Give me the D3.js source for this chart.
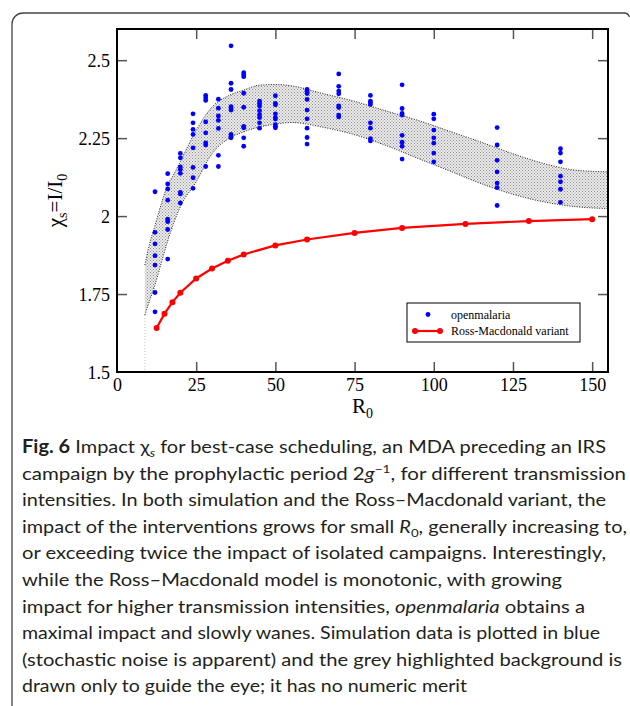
<!DOCTYPE html>
<html>
<head>
<meta charset="utf-8">
<script src="https://cdn.jsdelivr.net/npm/d3@7"></script>
<style>
  body { margin: 0; background: #fff; }
  svg { display: block; }
</style>
</head>
<body>
<svg width="630" height="706"></svg>
<script>
// openmalaria simulation results, one column of runs per R0
const simR0 = [12, 16, 20, 24, 28, 32, 36, 40, 45, 50, 60, 70, 80, 90, 100, 120, 140];
const simValues = [
  [2.078, 1.948, 1.911, 1.873, 1.843, 1.755, 1.693],
  [2.136, 2.103, 2.087, 2.051, 1.990, 1.982, 1.957, 1.862],
  [2.201, 2.187, 2.158, 2.150, 2.137, 2.076, 2.071, 2.042],
  [2.328, 2.299, 2.278, 2.262, 2.219, 2.156, 2.123, 2.089],
  [2.387, 2.379, 2.371, 2.302, 2.267, 2.235, 2.228, 2.159],
  [2.375, 2.346, 2.321, 2.307, 2.281, 2.195, 2.159],
  [2.546, 2.426, 2.406, 2.351, 2.344, 2.340, 2.262, 2.256, 2.251],
  [2.460, 2.453, 2.447, 2.394, 2.349, 2.288, 2.283, 2.251, 2.224],
  [2.369, 2.361, 2.353, 2.338, 2.325, 2.316, 2.299, 2.282],
  [2.386, 2.361, 2.357, 2.328, 2.316, 2.311, 2.293, 2.288, 2.283],
  [2.406, 2.400, 2.393, 2.374, 2.340, 2.312, 2.282, 2.252, 2.231],
  [2.456, 2.416, 2.401, 2.392, 2.353, 2.348, 2.324, 2.318],
  [2.387, 2.369, 2.364, 2.358, 2.299, 2.282, 2.248, 2.241],
  [2.421, 2.345, 2.329, 2.324, 2.259, 2.237, 2.224, 2.183],
  [2.327, 2.312, 2.276, 2.251, 2.234, 2.202, 2.174],
  [2.284, 2.228, 2.179, 2.142, 2.106, 2.091, 2.034],
  [2.216, 2.202, 2.174, 2.128, 2.110, 2.086, 2.044]
];

// Ross-Macdonald variant
const rmR0 = [12.5, 15, 17.5, 20, 25, 30, 35, 40, 50, 60, 75, 90, 110, 130, 150];
const rmValues = [1.641, 1.687, 1.724, 1.754, 1.800, 1.832, 1.857, 1.877, 1.906, 1.925, 1.946, 1.962, 1.975, 1.984, 1.990];

// grey guide band (no numeric merit)
const bandR0 = [8.8, 10, 12, 14, 16, 18, 20, 25, 30, 35, 40, 45, 50, 55, 65, 75, 85, 95, 105, 115, 125, 135, 145, 155];
const bandUpper = [1.843, 1.90, 1.97, 2.04, 2.10, 2.135, 2.175, 2.275, 2.35, 2.385, 2.404, 2.42, 2.422, 2.418, 2.393, 2.368, 2.337, 2.307, 2.272, 2.237, 2.20, 2.168, 2.147, 2.142];
const bandLower = [1.683, 1.72, 1.78, 1.85, 1.92, 1.98, 2.03, 2.11, 2.20, 2.247, 2.27, 2.286, 2.295, 2.300, 2.285, 2.261, 2.226, 2.185, 2.145, 2.104, 2.07, 2.045, 2.03, 2.024];

const xTicks = [0, 25, 50, 75, 100, 125, 150];
const yTicks = [1.5, 1.75, 2, 2.25, 2.5];
const yTickLabels = ['1.5', '1.75', '2', '2.25', '2.5'];

const captionLines = [
  [['Fig. 6', 'b'], ['  Impact ', ''], ['χ', ''], ['s', 'subi'], [' for best-case scheduling, an MDA preceding an IRS', '']],
  [['campaign by the prophylactic period 2', ''], ['g', 'i'], ['−1', 'sup'], [', for different transmission', '']],
  [['intensities. In both simulation and the Ross–Macdonald variant, the', '']],
  [['impact of the interventions grows for small ', ''], ['R', 'i'], ['0', 'sub'], [', generally increasing to,', '']],
  [['or exceeding twice the impact of isolated campaigns. Interestingly,', '']],
  [['while the Ross–Macdonald model is monotonic, with growing', '']],
  [['impact for higher transmission intensities, ', ''], ['openmalaria', 'i'], [' obtains a', '']],
  [['maximal impact and slowly wanes. Simulation data is plotted in blue', '']],
  [['(stochastic noise is apparent) and the grey highlighted background is', '']],
  [['drawn only to guide the eye; it has no numeric merit', '']]
];
const captionEnds = [606, 626, 606, 627, 606, 562, 585, 600, 622, 467];

const serif = '"Liberation Serif", "Times New Roman", serif';
const sans = 'Lato, "Open Sans", sans-serif';

const svg = d3.select('svg');

// outer rounded frame (only its left and top edges are in view)
svg.append('path')
  .attr('d', 'M12,706 L12,24 A11,11 0 0 1 23,13 L624,13 A6,6 0 0 1 629.5,17')
  .attr('fill', 'none')
  .attr('stroke', '#444')
  .attr('stroke-width', 1.3);

const margin = { top: 29, right: 22, bottom: 334, left: 117 };
const innerWidth = 630 - margin.left - margin.right;
const innerHeight = 706 - margin.top - margin.bottom;

const xScale = d3.scaleLinear().domain([0, 155]).range([0, innerWidth]);
const yScale = d3.scaleLinear().domain([1.5, 2.6]).range([innerHeight, 0]);

const g = svg.append('g')
  .attr('transform', `translate(${margin.left},${margin.top})`);

// stipple pattern for the band
const defs = svg.append('defs');
const pat = defs.append('pattern')
  .attr('id', 'stipple')
  .attr('width', 3).attr('height', 3)
  .attr('patternUnits', 'userSpaceOnUse');
pat.append('rect').attr('width', 3).attr('height', 3).attr('fill', '#ececec');
pat.append('rect').attr('width', 1).attr('height', 1).attr('fill', '#8c8c8c');
pat.append('rect').attr('x', 1.5).attr('y', 1.5).attr('width', 1).attr('height', 1).attr('fill', '#8c8c8c');

defs.append('clipPath').attr('id', 'plotclip')
  .append('rect').attr('width', innerWidth).attr('height', innerHeight);

const band = bandR0.map((r, i) => ({ r, lo: bandLower[i], hi: bandUpper[i] }));
const plot = g.append('g').attr('clip-path', 'url(#plotclip)');

plot.append('path')
  .datum(band)
  .attr('d', d3.area().x(d => xScale(d.r)).y0(d => yScale(d.lo)).y1(d => yScale(d.hi)).curve(d3.curveMonotoneX))
  .attr('fill', 'url(#stipple)');

[d => d.hi, d => d.lo].forEach(acc => {
  plot.append('path')
    .datum(band)
    .attr('d', d3.line().x(d => xScale(d.r)).y(d => yScale(acc(d))).curve(d3.curveMonotoneX))
    .attr('fill', 'none')
    .attr('stroke', '#222')
    .attr('stroke-width', 1)
    .attr('stroke-dasharray', '1,1.5');
});

// faint vertical guide below the band
plot.append('line')
  .attr('x1', xScale(bandR0[0])).attr('x2', xScale(bandR0[0]))
  .attr('y1', yScale(bandLower[0])).attr('y2', yScale(1.5))
  .attr('stroke', '#bbb')
  .attr('stroke-width', 1)
  .attr('stroke-dasharray', '1,2');

// axes (ticks inside, mirrored on all four sides)
const tickColor = '#555';
const xAxisG = g.append('g').attr('transform', `translate(0,${innerHeight})`)
  .call(d3.axisBottom(xScale).tickValues(xTicks).tickSize(-10).tickPadding(6).tickFormat(d3.format('d')));
const topG = g.append('g').call(d3.axisTop(xScale).tickValues(xTicks.slice(1)).tickSize(-10).tickFormat(''));
const yAxisG = g.append('g')
  .call(d3.axisLeft(yScale).tickValues(yTicks).tickSize(-10).tickPadding(7).tickFormat((d, i) => yTickLabels[i]));
const rightG = g.append('g').attr('transform', `translate(${innerWidth},0)`)
  .call(d3.axisRight(yScale).tickValues(yTicks.slice(1)).tickSize(-10).tickFormat(''));

topG.selectAll('.tick text').remove();
rightG.selectAll('.tick text').remove();
[xAxisG, yAxisG].forEach(a => a.attr('font-family', serif).attr('font-size', 18));
g.selectAll('.domain').remove();
g.selectAll('.tick line').attr('stroke', tickColor).attr('stroke-width', 1.5);
g.selectAll('.tick text').attr('fill', '#000');
xAxisG.selectAll('.tick line').filter(d => d === 0).remove();
yAxisG.selectAll('.tick line').filter(d => d === 1.5).remove();
yAxisG.selectAll('.tick text').attr('dy', '0.36em');

g.append('rect')
  .attr('width', innerWidth).attr('height', innerHeight)
  .attr('fill', 'none')
  .attr('stroke', '#000')
  .attr('stroke-width', 2);

// openmalaria points
const simPoints = simR0.flatMap((r, i) => simValues[i].map(v => ({ r, v })));
g.selectAll('circle.sim').data(simPoints)
  .enter().append('circle')
  .attr('class', 'sim')
  .attr('cx', d => xScale(d.r))
  .attr('cy', d => yScale(d.v))
  .attr('r', 2.4)
  .attr('fill', '#0000ff');

// Ross-Macdonald line
const rm = rmR0.map((r, i) => ({ r, v: rmValues[i] }));
g.append('path')
  .datum(rm)
  .attr('d', d3.line().x(d => xScale(d.r)).y(d => yScale(d.v)))
  .attr('fill', 'none')
  .attr('stroke', '#ff0000')
  .attr('stroke-width', 2.2);
g.selectAll('circle.rm').data(rm)
  .enter().append('circle')
  .attr('class', 'rm')
  .attr('cx', d => xScale(d.r))
  .attr('cy', d => yScale(d.v))
  .attr('r', 3)
  .attr('fill', '#ff0000');

// axis labels
const xl = svg.append('text')
  .attr('x', margin.left + innerWidth / 2)
  .attr('y', 413)
  .attr('text-anchor', 'middle')
  .attr('font-family', serif)
  .attr('font-size', 21);
xl.append('tspan').text('R');
xl.append('tspan').attr('font-size', 14).attr('dy', 5).text('0');

const yl = svg.append('text')
  .attr('transform', `translate(62,${margin.top + innerHeight / 2}) rotate(-90)`)
  .attr('text-anchor', 'middle')
  .attr('font-family', serif)
  .attr('font-size', 21);
yl.append('tspan').text('χ');
yl.append('tspan').attr('font-size', 14).attr('dy', 5).text('s');
yl.append('tspan').attr('dy', -5).text('=I/I');
yl.append('tspan').attr('font-size', 14).attr('dy', 5).text('0');

// legend
const lg = svg.append('g').attr('transform', 'translate(407,303)');
lg.append('rect')
  .attr('width', 173).attr('height', 39)
  .attr('fill', '#fff')
  .attr('stroke', '#000')
  .attr('stroke-width', 1);
lg.append('circle').attr('cx', 21).attr('cy', 11.5).attr('r', 2.4).attr('fill', '#0000ff');
lg.append('line').attr('x1', 8).attr('x2', 33).attr('y1', 28).attr('y2', 28)
  .attr('stroke', '#ff0000').attr('stroke-width', 2.2);
[8, 33].forEach(x => lg.append('circle').attr('cx', x).attr('cy', 28).attr('r', 3).attr('fill', '#ff0000'));
lg.append('text').attr('x', 44).attr('y', 15.5)
  .attr('font-family', serif).attr('font-size', 12).text('openmalaria');
lg.append('text').attr('x', 44).attr('y', 32)
  .attr('font-family', serif).attr('font-size', 12).text('Ross-Macdonald variant');

// caption
captionLines.forEach((segs, i) => {
  const t = svg.append('text')
    .attr('font-family', sans)
    .attr('font-size', 18)
    .attr('fill', '#231f20')
    .attr('x', 22)
    .attr('y', 453 + i * 26.6)
    .attr('textLength', captionEnds[i] - 22)
    .attr('lengthAdjust', 'spacingAndGlyphs');
  let shift = 0;
  segs.forEach(([txt, st]) => {
    const s = t.append('tspan').text(txt);
    let target = 0;
    if (st === 'b') s.attr('font-weight', 'bold');
    if (st === 'i') s.attr('font-style', 'italic');
    if (st === 'sub' || st === 'subi') { s.attr('font-size', 12); target = 4; if (st === 'subi') s.attr('font-style', 'italic'); }
    if (st === 'sup') { s.attr('font-size', 12); target = -7; }
    if (target !== shift) { s.attr('dy', target - shift); shift = target; }
  });
});
</script>
</body>
</html>
